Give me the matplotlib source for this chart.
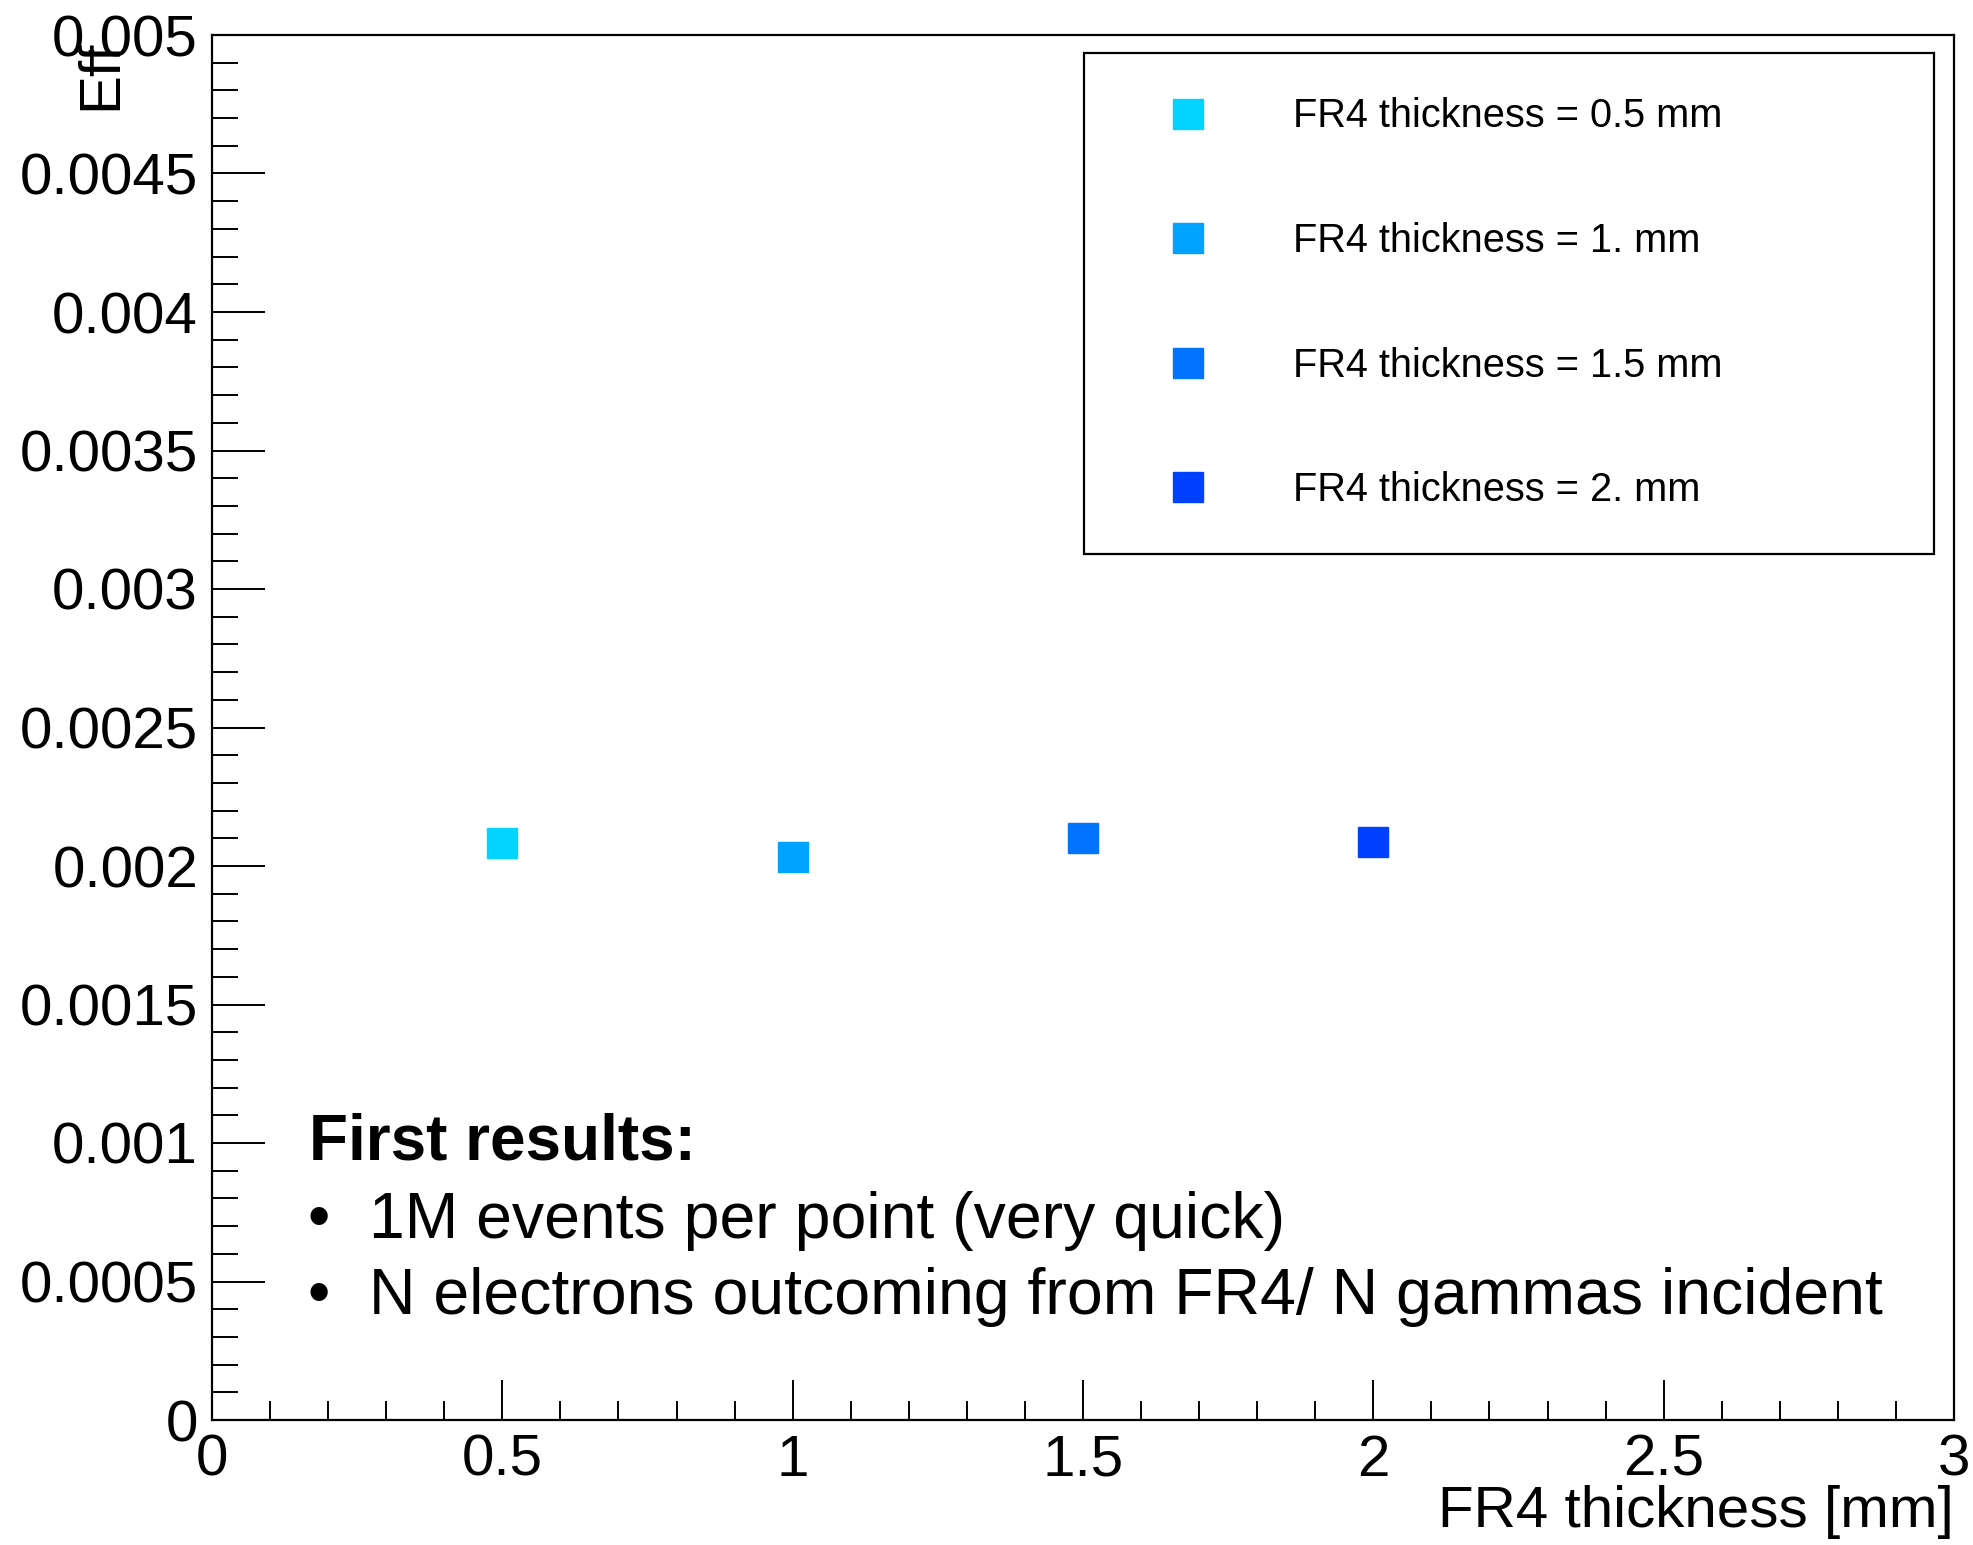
import matplotlib.pyplot as plt
from matplotlib.ticker import MultipleLocator

plt.rcParams['font.family'] = ['Liberation Sans', 'DejaVu Sans']

# values
thickness = [0.5, 1.0, 1.5, 2.0]
eff = [0.002082, 0.002032, 0.002100, 0.002086]
labels = ['FR4 thickness = 0.5 mm', 'FR4 thickness = 1. mm',
          'FR4 thickness = 1.5 mm', 'FR4 thickness = 2. mm']
colors = ['#00d4ff', '#00a2ff', '#0073ff', '#0040ff']
notes = ['1M events per point (very quick)',
         'N electrons outcoming from FR4/ N gammas incident']

W, H = 1974, 1545
fig = plt.figure(figsize=(W / 100, H / 100), dpi=100)
ax = fig.add_axes([212 / W, 1 - 1420 / H, 1742 / W, 1385 / H])

for x, y, lab, c in zip(thickness, eff, labels, colors):
    ax.plot([x], [y], 's', color=c, markersize=21, label=lab)

ax.set_xlim(0, 3)
ax.set_ylim(0, 0.005)
ax.xaxis.set_major_locator(MultipleLocator(0.5))
ax.xaxis.set_minor_locator(MultipleLocator(0.1))
ax.yaxis.set_major_locator(MultipleLocator(0.0005))
ax.yaxis.set_minor_locator(MultipleLocator(0.0001))
ax.xaxis.set_major_formatter(lambda v, p: f'{v:g}')
ax.yaxis.set_major_formatter(lambda v, p: f'{v:g}')

ax.tick_params(which='both', direction='in', top=False, right=False,
               labelsize=42, width=1.4)
ax.tick_params(axis='x', which='major', length=29, pad=10)
ax.tick_params(axis='x', which='minor', length=14)
ax.tick_params(axis='y', which='major', length=38, pad=10)
ax.tick_params(axis='y', which='minor', length=19)
for s in ax.spines.values():
    s.set_linewidth(1.6)

ax.set_xlabel('FR4 thickness [mm]', fontsize=42, loc='right')
ax.xaxis.set_label_coords(1.0, -0.047)
ax.set_ylabel('Eff', fontsize=42, loc='top')
ax.yaxis.set_label_coords(-0.048, 0.997)

leg = ax.legend(loc='upper left', bbox_to_anchor=(0.5006, 0.987, 0.4879, 0.0),
                mode='expand', fontsize=28.6, borderpad=1.12, labelspacing=2.18,
                handlelength=3.0, handletextpad=1.15, borderaxespad=0,
                fancybox=False, framealpha=1, edgecolor='black', numpoints=1)
leg.get_frame().set_linewidth(1.6)

ax.text(0.0556, 0.2, 'First results:', transform=ax.transAxes,
        fontsize=46, fontweight='bold', va='center')
for yy, note in zip([0.1436, 0.0891], notes):
    ax.text(0.0614, yy, '\u2022', transform=ax.transAxes, fontsize=46,
            va='center', ha='center')
    ax.text(0.0903, yy, note, transform=ax.transAxes, fontsize=46.4, va='center')

fig.savefig('out.png', dpi=100)
